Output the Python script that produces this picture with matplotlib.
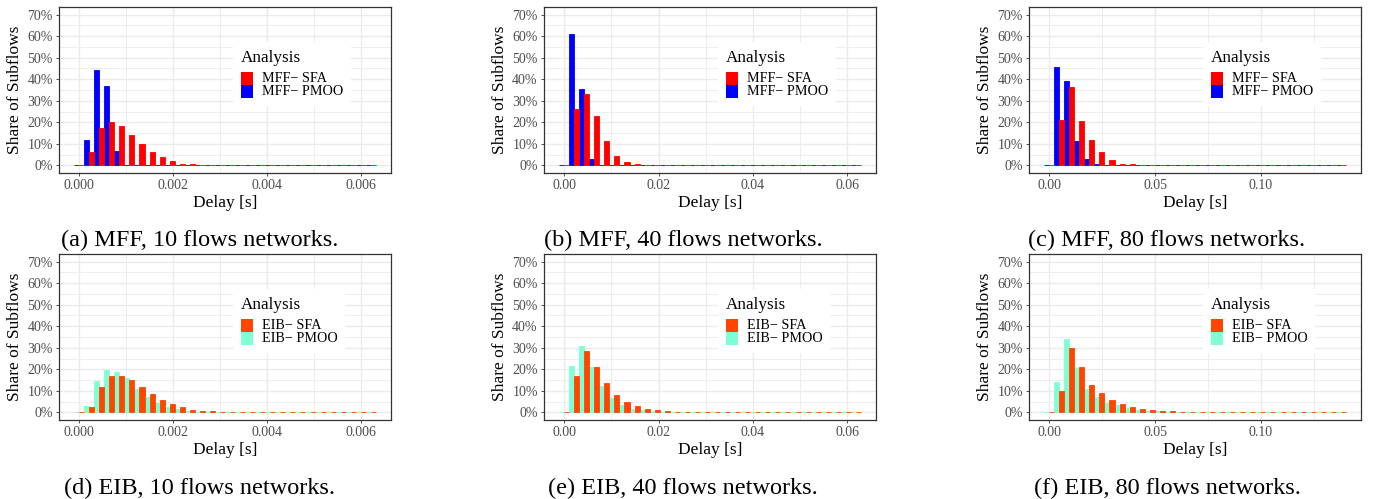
import numpy as np
import matplotlib
matplotlib.use("Agg")
import matplotlib.pyplot as plt
from matplotlib.patches import Patch, Rectangle
from matplotlib.legend_handler import HandlerPatch
from matplotlib.ticker import FixedLocator, MultipleLocator

plt.rcParams['font.family'] = ['Liberation Serif', 'DejaVu Serif']

# ---------------- data (share of subflows per histogram bin, %) ----------------
# 30 bins per panel, bin centres spanning [delay_min, delay_max]
delay_range_10 = (0.0, 0.00622)
delay_range_40 = (0.0, 0.0618)
delay_range_80 = (0.0, 0.1377)

mff10_sfa  = [0, 6.1, 17.3, 20.1, 18.2, 14.0, 9.8, 6.1, 3.7, 1.9, 0.9, 0.5, 0, 0, 0, 0, 0, 0, 0, 0, 0, 0, 0, 0, 0, 0, 0, 0, 0, 0]
mff10_pmoo = [0, 11.7, 44.3, 36.9, 6.5, 0, 0, 0, 0, 0, 0, 0, 0, 0, 0, 0, 0, 0, 0, 0, 0, 0, 0, 0, 0, 0, 0, 0, 0, 0]

mff40_sfa  = [0, 26.1, 33.1, 22.9, 11.2, 4.2, 1.4, 0.5, 0, 0, 0, 0, 0, 0, 0, 0, 0, 0, 0, 0, 0, 0, 0, 0, 0, 0, 0, 0, 0, 0]
mff40_pmoo = [0, 61.1, 35.5, 2.8, 0, 0, 0, 0, 0, 0, 0, 0, 0, 0, 0, 0, 0, 0, 0, 0, 0, 0, 0, 0, 0, 0, 0, 0, 0, 0]

mff80_sfa  = [0, 21.0, 36.4, 20.5, 11.7, 6.1, 2.3, 0.9, 0.5, 0, 0, 0, 0, 0, 0, 0, 0, 0, 0, 0, 0, 0, 0, 0, 0, 0, 0, 0, 0, 0]
mff80_pmoo = [0, 45.7, 39.2, 11.2, 2.8, 0.5, 0.1, 0, 0, 0, 0, 0, 0, 0, 0, 0, 0, 0, 0, 0, 0, 0, 0, 0, 0, 0, 0, 0, 0, 0]

eib10_sfa  = [0, 2.6, 12.0, 17.1, 17.1, 15.2, 12.0, 8.7, 5.9, 4.0, 2.6, 1.2, 0.8, 0.7, 0, 0, 0, 0, 0, 0, 0, 0, 0, 0, 0, 0, 0, 0, 0, 0]
eib10_pmoo = [0, 3.1, 14.8, 19.9, 18.9, 16.1, 11.0, 7.3, 4.5, 2.6, 1.7, 0.8, 0.4, 0.2, 0, 0, 0, 0, 0, 0, 0, 0, 0, 0, 0, 0, 0, 0, 0, 0]

eib40_sfa  = [0, 17.1, 28.3, 21.3, 13.8, 8.2, 5.0, 3.1, 1.7, 1.2, 0.8, 0, 0, 0, 0, 0, 0, 0, 0, 0, 0, 0, 0, 0, 0, 0, 0, 0, 0, 0]
eib40_pmoo = [0, 21.7, 30.6, 21.3, 12.4, 6.8, 3.6, 1.7, 1.2, 0.8, 0.4, 0, 0, 0, 0, 0, 0, 0, 0, 0, 0, 0, 0, 0, 0, 0, 0, 0, 0, 0]

eib80_sfa  = [0, 10.1, 29.7, 21.3, 12.9, 9.2, 5.9, 4.0, 2.6, 1.7, 1.2, 0.8, 0.7, 0, 0, 0, 0, 0, 0, 0, 0, 0, 0, 0, 0, 0, 0, 0, 0, 0]
eib80_pmoo = [0, 14.3, 33.9, 20.8, 11.0, 7.3, 4.5, 3.6, 2.2, 1.2, 0.8, 0.6, 0, 0, 0, 0, 0, 0, 0, 0, 0, 0, 0, 0, 0, 0, 0, 0, 0, 0]

xticks_10 = [0.000, 0.002, 0.004, 0.006]
xticklabels_10 = ["0.000", "0.002", "0.004", "0.006"]
xticks_40 = [0.00, 0.02, 0.04, 0.06]
xticklabels_40 = ["0.00", "0.02", "0.04", "0.06"]
xticks_80 = [0.00, 0.05, 0.10]
xticklabels_80 = ["0.00", "0.05", "0.10"]
yticks = [0, 10, 20, 30, 40, 50, 60, 70]
yticklabels = ["0%", "10%", "20%", "30%", "40%", "50%", "60%", "70%"]

captions = ["(a) MFF, 10 flows networks.", "(b) MFF, 40 flows networks.", "(c) MFF, 80 flows networks.",
            "(d) EIB, 10 flows networks.", "(e) EIB, 40 flows networks.", "(f) EIB, 80 flows networks."]

panels = [
    (delay_range_10, mff10_sfa, mff10_pmoo, xticks_10, xticklabels_10, "MFF"),
    (delay_range_40, mff40_sfa, mff40_pmoo, xticks_40, xticklabels_40, "MFF"),
    (delay_range_80, mff80_sfa, mff80_pmoo, xticks_80, xticklabels_80, "MFF"),
    (delay_range_10, eib10_sfa, eib10_pmoo, xticks_10, xticklabels_10, "EIB"),
    (delay_range_40, eib40_sfa, eib40_pmoo, xticks_40, xticklabels_40, "EIB"),
    (delay_range_80, eib80_sfa, eib80_pmoo, xticks_80, xticklabels_80, "EIB"),
]
colors = {"MFF": ("#FF0000", "#0000FF"), "EIB": ("#FF4500", "#7FFFD4")}


def key_rect(legend, orig_handle, xdescent, ydescent, width, height, fontsize):
    # square legend key filling the full row height so stacked keys touch
    return Rectangle((-xdescent, -0.225 * fontsize), width, 0.935 * fontsize)


# ---------------- layout ----------------
W, H = 1374, 499
fig = plt.figure(figsize=(W / 100, H / 100), dpi=100)
fig.patch.set_facecolor("white")

ax_left_px = [59, 544, 1029]
ax_w_px = 332
ax_top_px = [7, 254]
ax_h_px = 166
cap_x_px = [200, 683, 1167]
cap_y_px = [240, 488]

grid_c = "#EBEBEB"
tick_c = "#4D4D4D"

for i, (rng, sfa, pmoo, xt, xtl, fam) in enumerate(panels):
    r, c = divmod(i, 3)
    ax = fig.add_axes([ax_left_px[c] / W, 1 - (ax_top_px[r] + ax_h_px) / H, ax_w_px / W, ax_h_px / H])
    n = len(sfa)
    centers = np.linspace(rng[0], rng[1], n)
    w = (rng[1] - rng[0]) / (n - 1)
    c_sfa, c_pmoo = colors[fam]
    ax.bar(centers - w / 4, pmoo, width=w / 2, color=c_pmoo, edgecolor=c_pmoo, linewidth=0.6, zorder=3)
    ax.bar(centers + w / 4, sfa, width=w / 2, color=c_sfa, edgecolor=c_sfa, linewidth=0.6, zorder=3)

    lo, hi = rng[0] - w / 2, rng[1] + w / 2
    pad = 0.05 * (hi - lo)
    ax.set_xlim(lo - pad, hi + pad)
    ax.set_ylim(-3.5, 73.5)

    ax.set_xticks(xt)
    ax.set_xticklabels(xtl)
    ax.xaxis.set_minor_locator(FixedLocator([(xt[k] + xt[k + 1]) / 2 for k in range(len(xt) - 1)]
                                            + [xt[-1] + (xt[1] - xt[0]) / 2]))
    ax.set_yticks(yticks)
    ax.set_yticklabels(yticklabels)
    ax.yaxis.set_minor_locator(MultipleLocator(5))
    ax.grid(True, which="major", color=grid_c, linewidth=1.0, zorder=0)
    ax.grid(True, which="minor", color=grid_c, linewidth=0.6, zorder=0)
    ax.set_axisbelow(True)
    ax.tick_params(which="major", length=2.5, width=0.6, color="#333333", labelsize=10,
                   labelcolor=tick_c, pad=2)
    ax.tick_params(which="minor", length=0)
    for s in ax.spines.values():
        s.set_color("#333333")
        s.set_linewidth(0.9)

    ax.set_xlabel("Delay [s]", fontsize=12.5)
    ax.xaxis.set_label_coords(0.5, -30 / ax_h_px)
    ax.xaxis.label.set_va("center")
    ax.set_ylabel("Share of Subflows", fontsize=12.5)
    ax.yaxis.set_label_coords(-44 / ax_w_px, 0.5)
    ax.yaxis.label.set_va("center")

    handles = [Patch(facecolor=c_sfa, edgecolor="none"), Patch(facecolor=c_pmoo, edgecolor="none")]
    leg = ax.legend(handles, [fam + "\u2212 SFA", fam + "\u2212 PMOO"], title="Analysis",
                    loc="upper left", bbox_to_anchor=(0.524, 0.789), borderaxespad=0,
                    fontsize=10.2, title_fontsize=12.3, frameon=True, fancybox=False,
                    framealpha=1, facecolor="white", edgecolor="none", alignment="left",
                    handlelength=0.85, handleheight=0.7, handletextpad=0.63, labelspacing=0.0,
                    borderpad=0.55, handler_map={Patch: HandlerPatch(patch_func=key_rect)})
    leg._legend_box.sep = 4.5
    leg.set_zorder(5)

    fig.text(cap_x_px[c] / W, 1 - cap_y_px[r] / H, captions[i], fontsize=17.5, ha="center", va="center")

fig.savefig("out.png", dpi=100, facecolor="white")
